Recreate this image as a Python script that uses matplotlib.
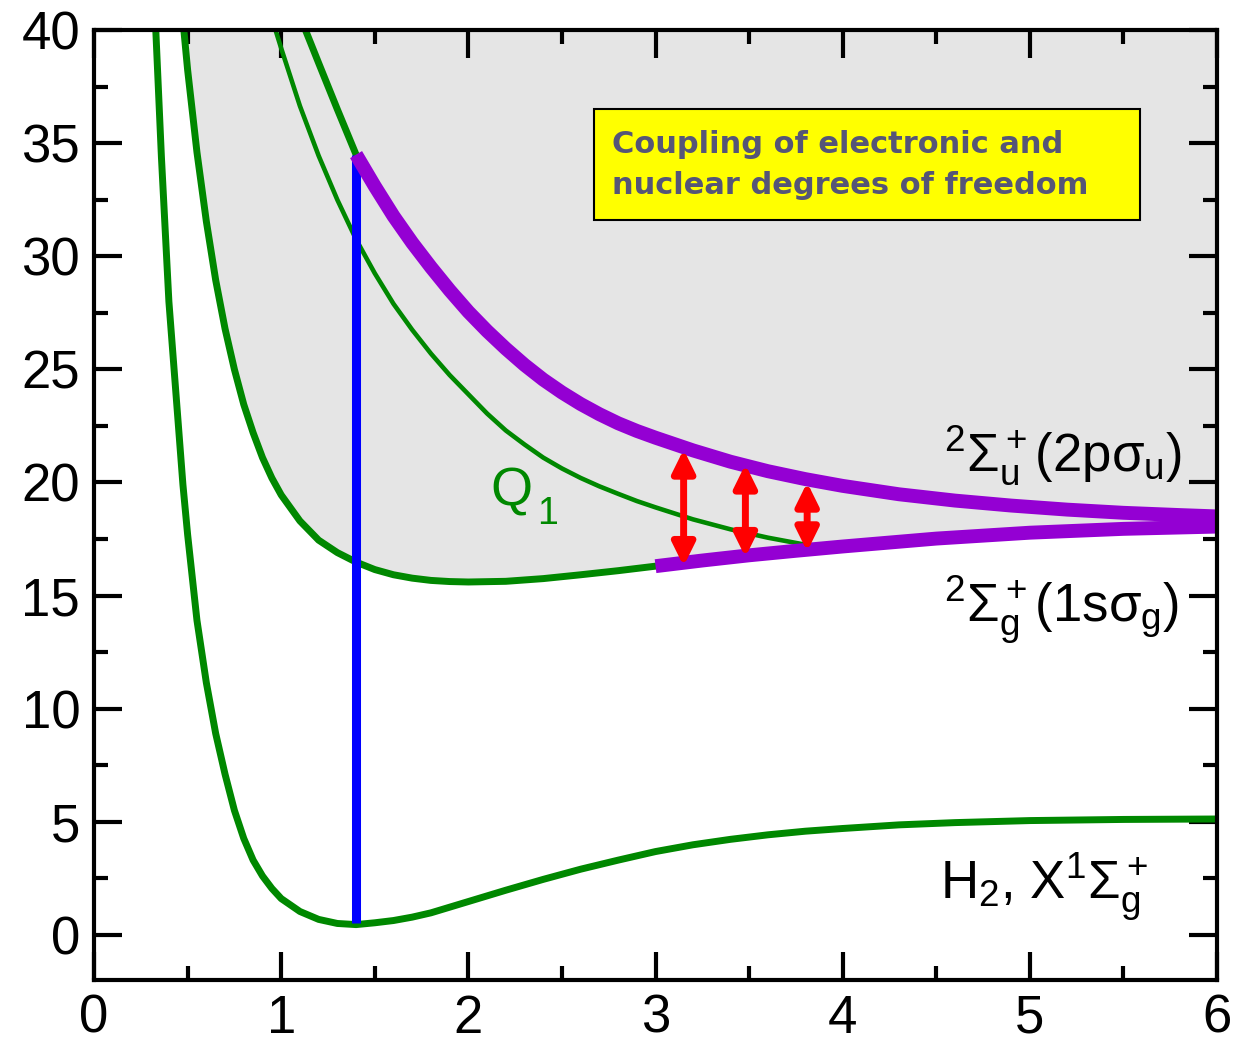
import numpy as np
import matplotlib
matplotlib.use("Agg")
import matplotlib.pyplot as plt
from matplotlib.patches import Rectangle

plt.rcParams['font.family'] = ['Liberation Sans', 'DejaVu Sans']
plt.rcParams['mathtext.fontset'] = 'custom'
plt.rcParams['mathtext.rm'] = 'Liberation Sans'
plt.rcParams['mathtext.it'] = 'Liberation Sans'
plt.rcParams['mathtext.sf'] = 'Liberation Sans'
plt.rcParams['mathtext.bf'] = 'Liberation Sans:bold'

# H2 ground state X 1Sigma_g+ (R in bohr, E in eV)
r_h2 = [0.33, 0.36, 0.40, 0.45, 0.475, 0.50, 0.55, 0.60, 0.65, 0.70, 0.75, 0.80,
        0.85, 0.90, 0.95, 1.00, 1.10, 1.20, 1.30, 1.40, 1.50, 1.60, 1.70, 1.80,
        1.90, 2.00, 2.20, 2.40, 2.60, 2.80, 3.00, 3.20, 3.40, 3.60, 3.80, 4.00,
        4.30, 4.60, 5.00, 5.50, 6.00]
e_h2 = [40.0, 34.4, 28.0, 22.6, 19.9, 17.7, 13.9, 11.15, 8.9, 7.1, 5.5, 4.26,
        3.3, 2.6, 2.05, 1.6, 1.03, 0.68, 0.50, 0.45, 0.53, 0.63, 0.78, 0.97,
        1.22, 1.47, 1.97, 2.45, 2.9, 3.3, 3.68, 3.98, 4.22, 4.42, 4.58, 4.70,
        4.86, 4.96, 5.05, 5.10, 5.12]

# H2+ 1s sigma_g: short range part (green) and long range part (violet)
r_1s = [0.48, 0.50, 0.55, 0.60, 0.65, 0.70, 0.75, 0.80, 0.85, 0.90, 0.95, 1.00,
        1.10, 1.20, 1.30, 1.40, 1.50, 1.60, 1.70, 1.80, 1.90, 2.00, 2.20, 2.40,
        2.60, 2.80, 3.00]
e_1s = [40.0, 38.25, 34.6, 31.55, 28.95, 26.8, 25.0, 23.45, 22.2, 21.1, 20.2, 19.45,
        18.3, 17.45, 16.9, 16.48, 16.15, 15.92, 15.77, 15.67, 15.62, 15.6, 15.63, 15.75,
        15.92, 16.1, 16.3]
r_1s_far = [3.00, 3.25, 3.50, 3.75, 4.00, 4.50, 5.00, 5.50, 6.00]
e_1s_far = [16.3, 16.55, 16.78, 16.98, 17.17, 17.52, 17.78, 17.95, 18.05]

# H2+ 2p sigma_u
r_2p = [1.13, 1.20, 1.30, 1.40]
e_2p = [40.0, 38.55, 36.5, 34.5]
r_2p_far = [1.40, 1.50, 1.60, 1.70, 1.80, 1.90, 2.00, 2.10, 2.20, 2.30, 2.40, 2.50,
            2.60, 2.70, 2.80, 2.90, 3.00, 3.20, 3.40, 3.60, 3.80, 4.00, 4.30, 4.60,
            4.90, 5.20, 5.50, 5.80, 6.00]
e_2p_far = [34.5, 33.1, 31.78, 30.6, 29.52, 28.5, 27.55, 26.7, 25.92, 25.2, 24.55, 23.98,
            23.47, 23.02, 22.62, 22.28, 21.98, 21.42, 20.92, 20.5, 20.15, 19.85, 19.48, 19.2,
            18.98, 18.8, 18.66, 18.56, 18.5]

# doubly excited state Q1
r_q1 = [0.97, 1.00, 1.10, 1.20, 1.30, 1.40, 1.50, 1.60, 1.70, 1.80, 1.90, 2.00,
        2.10, 2.20, 2.30, 2.40, 2.50, 2.60, 2.70, 2.80, 2.90, 3.00, 3.20, 3.40,
        3.60, 3.80, 3.88]
e_q1 = [40.0, 39.2, 36.65, 34.45, 32.5, 30.75, 29.25, 27.9, 26.75, 25.7, 24.75, 23.9,
        23.05, 22.3, 21.68, 21.1, 20.62, 20.2, 19.83, 19.5, 19.18, 18.9, 18.37, 17.93,
        17.56, 17.25, 17.15]

# vertical excitation at R = 1.4
r_fc = 1.40
e_fc = [0.50, 34.5]

# coupling arrows between the two ionic curves
r_arrow = [3.15, 3.48, 3.81]
e_arrow_lo = [16.3, 16.7, 16.95]
e_arrow_hi = [21.46, 20.8, 20.0]

green = '#008800'
violet = '#9400d3'

fig = plt.figure(figsize=(12.47, 10.42), dpi=100)
ax = fig.add_axes([0.0754, 0.0595, 0.9006, 0.9115])

# shaded continuum above the ionisation threshold
r_edge = np.concatenate([r_1s, r_1s_far[1:]])
e_edge = np.concatenate([e_1s, e_1s_far[1:]])
ax.fill_between(r_edge, e_edge, 40, color='#e5e5e5', lw=0, zorder=0)

ax.plot(r_h2, e_h2, color=green, lw=5, zorder=2)
ax.plot(r_1s, e_1s, color=green, lw=5, zorder=2)
ax.plot(r_2p, e_2p, color=green, lw=5, zorder=2)
ax.plot(r_q1, e_q1, color=green, lw=3.3, zorder=2)

ax.plot([r_fc, r_fc], e_fc, color='#0000ff', lw=6.5, solid_capstyle='butt', zorder=3)

ax.plot(r_1s_far, e_1s_far, color=violet, lw=10, solid_capstyle='butt', zorder=4)
ax.plot(r_2p_far, e_2p_far, color=violet, lw=10, solid_capstyle='butt', zorder=4)

for r, lo, hi in zip(r_arrow, e_arrow_lo, e_arrow_hi):
    ax.annotate('', xy=(r, hi), xytext=(r, lo), zorder=5,
                arrowprops=dict(arrowstyle='<|-|>,head_length=0.85,head_width=0.42',
                                mutation_scale=16, color='#ff0000', lw=5,
                                shrinkA=0, shrinkB=0))

ax.text(2.12, 19.0, 'Q', color=green, fontsize=39, ha='left', va='baseline')
ax.text(2.365, 18.15, '1', color=green, fontsize=27, ha='left', va='baseline')
ax.text(4.54, 20.5, r'$^2\Sigma_u^+(2p\sigma_u)$', fontsize=38, ha='left', va='baseline')
ax.text(4.54, 13.85, r'$^2\Sigma_g^+(1s\sigma_g)$', fontsize=38, ha='left', va='baseline')
ax.text(4.52, 1.6, r'H$_2$, X$^1\Sigma_g^+$', fontsize=38, ha='left', va='baseline')

ax.add_patch(Rectangle((2.67, 31.6), 2.92, 4.9, facecolor='#ffff00',
                       edgecolor='black', lw=1.5, zorder=6))
ax.text(2.77, 34.05, 'Coupling of electronic and\nnuclear degrees of freedom',
        family='DejaVu Sans', color='#555577', fontsize=22, fontweight='bold',
        ha='left', va='center', linespacing=1.5, zorder=7)

ax.set_xlim(0, 6)
ax.set_ylim(-2, 40)
ax.set_xticks(np.arange(0, 7, 1))
ax.set_xticks(np.arange(0, 6.01, 0.5), minor=True)
ax.set_yticks(np.arange(0, 41, 5))
ax.set_yticks(np.arange(0, 40.01, 2.5), minor=True)

for s in ax.spines.values():
    s.set_linewidth(3)
    s.set_zorder(8)
ax.tick_params(which='both', direction='in', top=True, right=True, width=3)
ax.tick_params(which='major', length=20, labelsize=38)
ax.tick_params(axis='y', which='major', pad=10)
ax.tick_params(axis='x', which='major', pad=10)
ax.tick_params(which='minor', length=10)

fig.savefig('out.png', dpi=100)
